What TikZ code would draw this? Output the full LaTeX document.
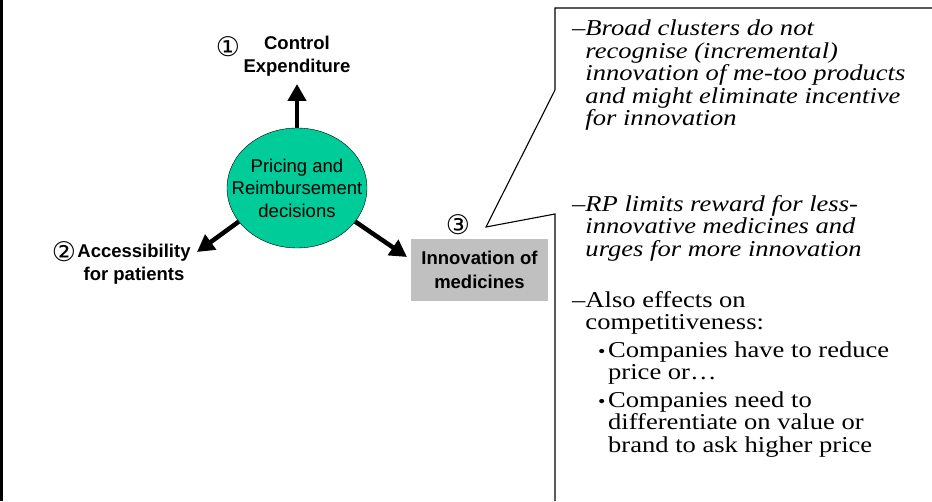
\documentclass[tikz,border=0pt]{standalone}
\usepackage{fontspec}
\setmainfont{Liberation Serif}
\setsansfont{Liberation Sans}
\newfontfamily\circfont{DejaVu Sans}
\newfontfamily\notefont[FakeStretch=1.17]{Liberation Serif}
\usetikzlibrary{shapes.geometric,arrows.meta}
\definecolor{prgreen}{HTML}{00CC99}
\definecolor{boxgray}{HTML}{C0C0C0}
\newcommand{\pt}{\makebox[10pt][l]{\fontsize{18}{18}\selectfont\textbullet}}

\begin{document}
\begin{tikzpicture}[x=1pt,y=1pt,
    goal/.style={font=\sffamily\bfseries\fontsize{18.5}{23.5}\selectfont,align=center,inner sep=0},
    num/.style={font=\circfont\fontsize{27}{27}\selectfont,inner sep=0},
    push/.style={line width=4.5pt,-{Triangle[length=17pt,width=18pt]}},
    note/.style={font=\notefont\fontsize{22.7}{22.5}\selectfont,align=left,anchor=north west,inner sep=0}]
        \useasboundingbox (0,0) rectangle (932,501);
        \draw[line width=2.5pt] (1.25,0) -- (1.25,501);

        % hub and the three goals
        \node[ellipse,draw,fill=prgreen,minimum width=140,minimum height=120,inner sep=0] (prd) at (297,313) {};
        \node[font=\sffamily\fontsize{18.5}{22.5}\selectfont,align=center,inner sep=0] (prdtext) at (prd.center) {Pricing and\\Reimbursement\\decisions};

        \node[num] (n1) at (228,454) {①};
        \node[goal] (ctrl) at (297,445) {Control\\Expenditure};
        \node[num] (n2) at (64,249) {②};
        \node[goal] (access) at (134,237) {Accessibility\\for patients};
        \node[num] (n3) at (458,276) {③};
        \node[goal,fill=boxgray,minimum width=137,minimum height=62] (innov) at (479.5,231) {Innovation of\\medicines};

        \coordinate (tipA) at (297,417);
        \coordinate (tipB) at (197,249);
        \coordinate (tipC) at (407,244);
        \draw[push] (prd.north) -- (tipA);
        \draw[push] (prd.210) -- (tipB);
        \draw[push] (prd.330) -- (tipC);

        % callout on innovation
        \coordinate (tip3) at (486,274);
        \draw[line width=1.1pt] (932,493) -- (555,493) -- (555,411) -- (tip3) -- (555,287) -- (555,0);

        \node[note] (clusters) at (572,481) {–\textit{Broad clusters do not}\\\phantom{–}\textit{recognise (incremental)}\\\phantom{–}\textit{innovation of me-too products}\\\phantom{–}\textit{and might eliminate incentive}\\\phantom{–}\textit{for innovation}};
        \node[note] (rplimits) at (572,306) {–\textit{RP limits reward for less-}\\\phantom{–}\textit{innovative medicines and}\\\phantom{–}\textit{urges for more innovation}};
        \node[note] (compet) at (572,210) {–Also effects on\\\phantom{–}competitiveness:\\[5pt]\hspace*{26pt}\pt Companies have to reduce\\\hspace*{36pt}price or…\\[5pt]\hspace*{26pt}\pt Companies need to\\\hspace*{36pt}differentiate on value or\\\hspace*{36pt}brand to ask higher price};
    \end{tikzpicture}
\end{document}
